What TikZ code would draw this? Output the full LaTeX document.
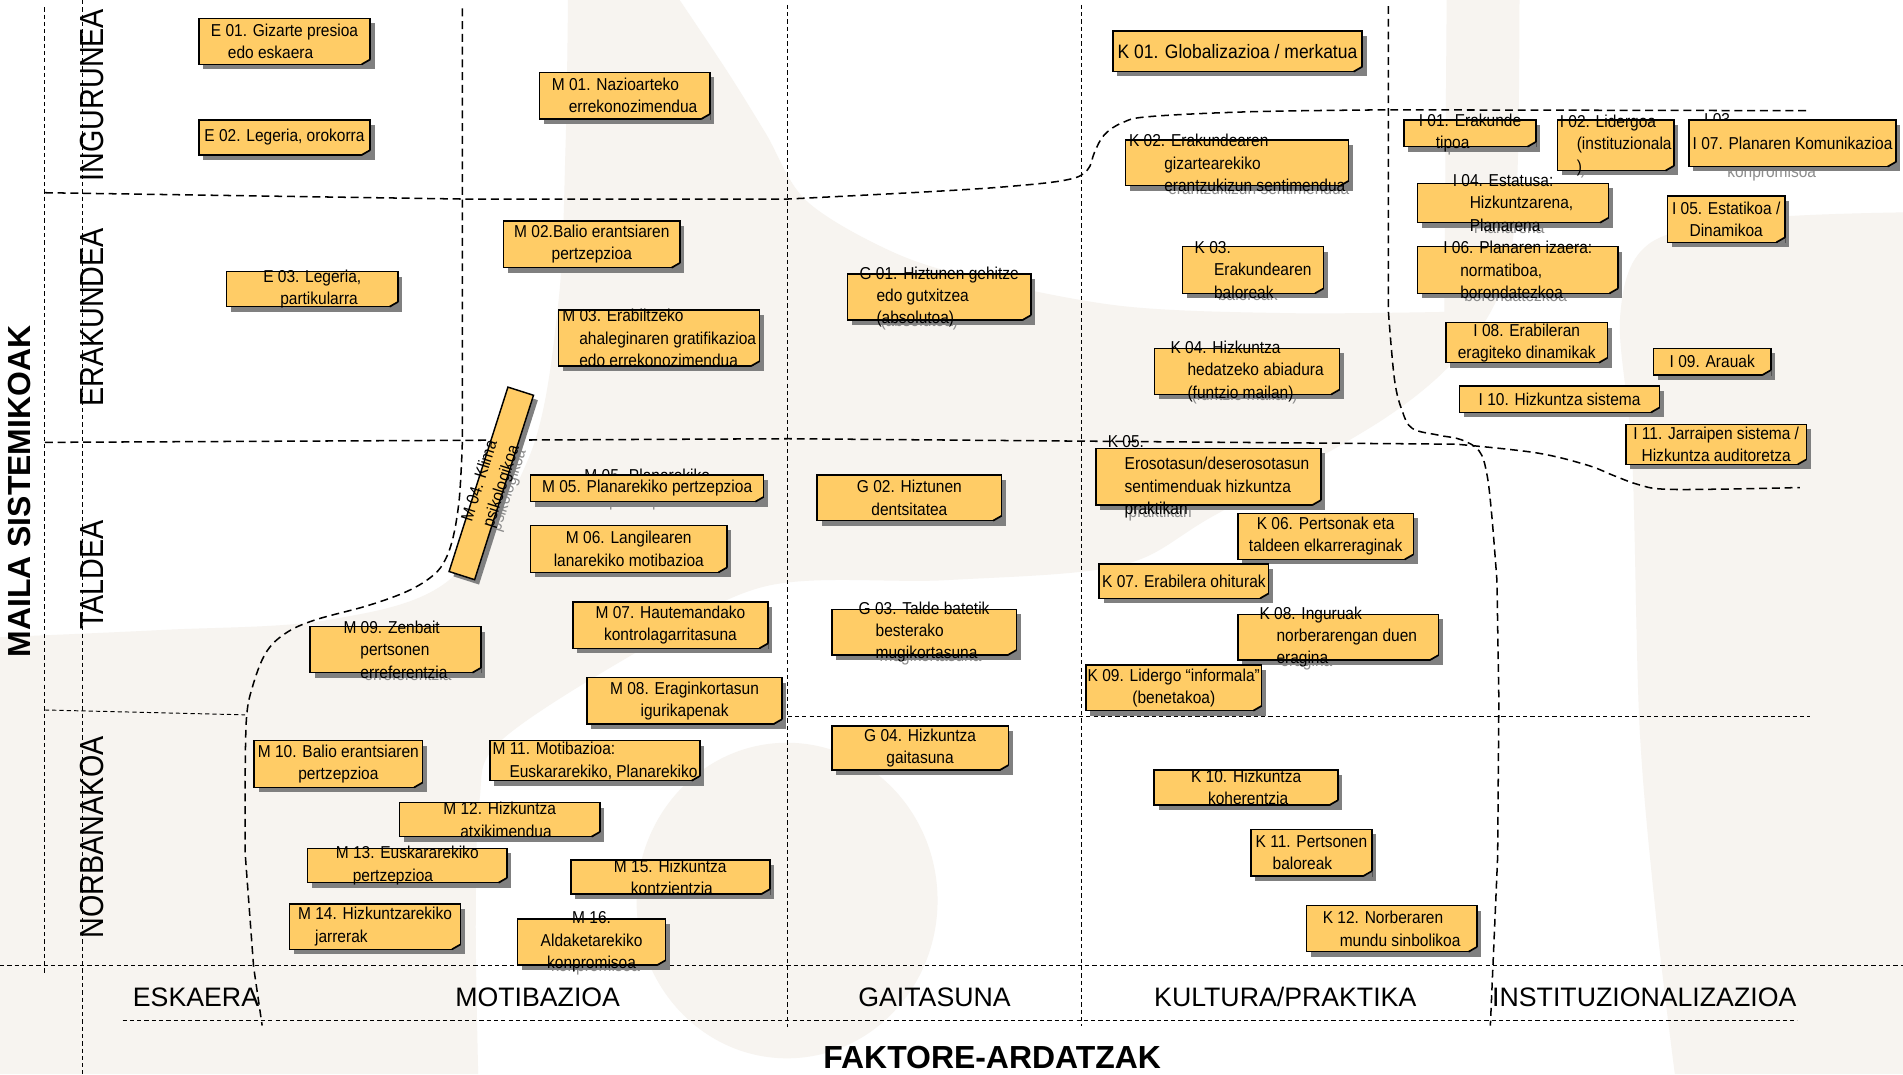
\documentclass[tikz,border=0pt]{standalone}
\usepackage{fontspec}
\setmainfont{Liberation Sans}
\newfontfamily\nar{Liberation Sans}[FakeStretch=0.9]
\newfontfamily\narr{Liberation Sans}[FakeStretch=0.86]
\definecolor{boxc}{HTML}{FFCC66}
\definecolor{bgc}{RGB}{247,244,240}
\newcommand\hi{\hspace*{14pt}}
\newcommand\ph[1]{\phantom{#1}}
\tikzset{
  bxs/.style={draw=black, line width=1.2pt, fill=boxc, inner sep=0pt, outer sep=0pt},
  btxt/.style={inner sep=0pt, text=black, font=\nar\fontsize{14.2}{18.4}\selectfont},
  ghost/.style={btxt, text=black!45},
  shc/.style={fill=black!50},
  tdash/.style={line width=1.25pt, dash pattern=on 6.5pt off 4pt},
  fdash/.style={line width=0.8pt, dash pattern=on 3.5pt off 2.5pt},
  rotlab/.style={rotate=90, inner sep=0pt, font=\narr\fontsize{27.5}{30}\selectfont},
  axlab/.style={anchor=base, inner sep=0pt, font=\fontsize{22}{24}\selectfont},
  bigl/.style={inner sep=0pt, font=\bfseries\fontsize{26.3}{28}\selectfont},
}
% name, x1, y1, x2, y2, node options, text, ghost text (only the part seen outside the box)
\newcommand\bx[8]{%
  \if\relax\detokenize{#8}\relax\else
    \node[ghost,#6] (#1g) at ({(#2+#4)/2+3.3},{(#3+#5)/2+2.2}) {#8};
  \fi
  \fill[shc] ({#2+3.6},{#3+4}) rectangle ({#4+3.6},{#5+4});
  \node[bxs, minimum width={#4-#2}, minimum height={#5-#3}] (#1) at ({(#2+#4)/2},{(#3+#5)/2}) {};
  \fill[shc] ({#4-7},{#5+0.7}) -- ({#4+0.7},{#5+0.7}) -- ({#4+0.7},{#5-4}) -- cycle;
  \draw[line width=1.4pt] ({#4-7},{#5}) -- ({#4},{#5-4});
  \node[btxt,#6] (#1t) at (#1) {#7};
}
\begin{document}
\begin{tikzpicture}[x=1pt,y=-1pt]
\useasboundingbox (0,0) rectangle (1568,885);
\fill[white] (0,0) rectangle (1568,885);
% background shapes
\fill[bgc] plot[smooth, tension=0.55] coordinates {(0,525)(135,519)(269,511)(370,478)(437,374)(460,250)(466,120)(468,0)}
  -- (560,0)
  -- plot[smooth, tension=0.55] coordinates {(560,0)(600,60)(631,110)(664,165)(732,206)(799,228)(923,252)(1060,258)(1190,257)}
  -- (1192,0) -- (1252,0)
  -- plot[smooth, tension=0.55] coordinates {(1252,0)(1250,150)(1240,230)(1205,290)(1139,346)(1000,425)(923,466)(780,478)(631,483)(520,540)(412,611)(395,660)(392,760)(394,885)}
  -- (0,885) -- cycle;
\fill[bgc] (648.5,742) ellipse [x radius=124, y radius=130];
\fill[bgc] plot[smooth, tension=0.55] coordinates {(1568,175)(1450,180)(1360,200)(1335,260)(1345,380)(1351,600)(1365,760)(1380,885)} -- (1568,885) -- cycle;

% grid lines
\draw[fdash] (37,6) -- (37,803);
\draw[fdash] (68,0) -- (68,885);
\draw[fdash] (649,4) -- (649,846);
\draw[fdash] (891,4) -- (891,845);
\draw[fdash] (37,585) -- (202,589);
\draw[fdash] (649,590) -- (1491,590);
\draw[fdash] (0,795.2) -- (1568,795.2);
\draw[fdash] (101,841) -- (1481,841);
\draw[tdash] (37,158.8) -- (381,164) -- (649,164)
  -- plot[smooth, tension=0.6] coordinates {(649,164)(765,158)(833,153.5)(880,148)(896,140)(902,125)(910,111)(925,101)(948,96)(1033,92)(1144,90.5)}
  -- (1489,91.2);
\draw[tdash] (381,7) -- (381,363)
  -- plot[smooth, tension=0.6] coordinates {(381,363)(380,387)(378,415)(373.5,442)(367,461)(357,474)(336,487)(303,499)(259,511)(235,522)(219,538)(208,566)(203,593)(202,650)}
  -- (202,703) -- (209,797) -- (216,845);
\draw[tdash] (37,364.5) -- (650,361.5) -- (1200,366)
  -- plot[smooth, tension=0.6] coordinates {(1200,366)(1265,373)(1307,383)(1330,392)(1349,399)(1370,403)(1420,403)(1483,401.7)};
\draw[tdash] (1144,5) -- (1144,257)
  -- plot[smooth, tension=0.6] coordinates {(1144,257)(1149,312.7)(1155.3,338.4)(1163.7,353)(1185,358.5)(1204,362.3)(1218.7,371.5)(1225,390)(1229,423)(1233.4,478)}
  -- (1235,577) -- (1234,706) -- (1228,845);

% E column
\bx{e01}{163.8}{15.1}{305}{53}{align=left}{E 01. Gizarte presioa\\\hi edo eskaera}{}
\bx{e02}{163.8}{98.9}{305}{127.7}{}{E 02. Legeria, orokorra}{}
\bx{e03}{186.6}{223.9}{328}{252.7}{align=left}{E 03. Legeria,\\\hi partikularra}{}
% M column
\bx{m01}{444.3}{59.6}{584.9}{98}{align=left}{M 01. Nazioarteko\\\hi errekonozimendua}{}
\bx{m02}{415}{182.1}{560.3}{220.6}{align=center}{M 02.Balio erantsiaren\\pertzepzioa}{}
\bx{m03}{460.4}{255.4}{625.9}{301.6}{align=left}{M 03. Erabiltzeko\\\hi ahaleginaren gratifikazioa\\\hi edo errekonozimendua}{\ph{M 03. Erabiltzeko}\\\hi\ph{ahaleginaren gratifikazioa}\\\hi edo errekonozimendua}
\node[ghost, rotate=72.3, align=left] (m04g) at (410.5,401) {\ph{M 04. Klima}\\psikologikoa};
\node[shc, rotate=72.3, minimum width=159.5, minimum height=22.1, inner sep=0pt] (m04s) at (408.4,402.3) {};
\node[bxs, rotate=72.3, minimum width=159.5, minimum height=22.1] (m04) at (404.8,398.3) {};
\node[btxt, rotate=72.3, align=left] (m04t) at (404.8,398.3) {M 04. Klima\\psikologikoa};
\node[ghost, align=left] (m05bg) at (536.6,404.6) {\ph{M 05. Planarekiko}\\\hspace*{17pt}pertzepzioa};
\node[btxt, align=left] (m05b) at (533.3,402.4) {M 05. Planarekiko\\\hspace*{17pt}\ph{pertzepzioa}};
\bx{m05}{437.2}{391.4}{629.3}{413.4}{}{M 05. Planarekiko pertzepzioa}{}
\bx{m06}{437.2}{433.1}{599}{471.6}{align=center}{M 06. Langilearen\\lanarekiko motibazioa}{}
\bx{m07}{472.2}{496}{632.7}{534.2}{align=center}{M 07. Hautemandako\\kontrolagarritasuna}{}
\bx{m08}{483.7}{558.4}{644.4}{596.6}{align=center}{M 08. Eraginkortasun\\igurikapenak}{}
\bx{m09}{255.6}{516.4}{396.2}{554.3}{align=left}{M 09. Zenbait\\\hi pertsonen\\\hi erreferentzia}{\ph{M 09. Zenbait}\\\hi\ph{pertsonen}\\\hi erreferentzia}
\bx{m10}{209.4}{610.3}{348.2}{648.8}{align=center}{M 10. Balio erantsiaren\\pertzepzioa}{}
\bx{m11}{403.7}{610.3}{576.8}{643.3}{align=left}{M 11. Motibazioa:\\\hi Euskararekiko, Planarekiko}{}
\bx{m12}{329}{661.4}{494.4}{689.4}{align=left}{M 12. Hizkuntza\\\hi atxikimendua}{\ph{M 12. Hizkuntza}\\\hi atxikimendua}
\bx{m13}{253.3}{699}{417.8}{727.3}{align=left}{M 13. Euskararekiko\\\hi pertzepzioa}{\ph{M 13. Euskararekiko}\\\hi pertzepzioa}
\bx{m14}{238.7}{744.9}{379.4}{782.2}{align=left}{M 14. Hizkuntzarekiko\\\hi jarrerak}{}
\bx{m15}{470.3}{708.6}{634.3}{736.7}{align=left}{M 15. Hizkuntza\\\hi kontzientzia}{\ph{M 15. Hizkuntza}\\\hi kontzientzia}
\bx{m16}{426.4}{757.2}{548.5}{795.2}{align=center}{M 16.\\Aldaketarekiko\\konpromisoa}{\ph{M 16.}\\\ph{Aldaketarekiko}\\konpromisoa}
% G column
\bx{g01}{698.2}{225.8}{849.5}{263.7}{align=left}{G 01. Hiztunen gehitze\\\hi edo gutxitzea\\\hi (absolutoa)}{\ph{G 01. Hiztunen gehitze}\\\hi\ph{edo gutxitzea}\\\hi (absolutoa)}
\bx{g02}{673.3}{391.4}{825.3}{429}{align=center}{G 02. Hiztunen\\dentsitatea}{}
\bx{g03}{685.4}{502}{837.4}{539.7}{align=left}{G 03. Talde batetik\\\hi besterako\\\hi mugikortasuna}{\ph{G 03. Talde batetik}\\\hi\ph{besterako}\\\hi mugikortasuna}
\bx{g04}{685.4}{598.2}{830.8}{634.5}{align=center}{G 04. Hizkuntza\\gaitasuna}{}
% K column
\bx{k01}{916.9}{25.5}{1122.4}{59}{font=\nar\fontsize{16}{19}\selectfont}{K 01. Globalizazioa / merkatua}{}
\bx{k02}{927.5}{115.4}{1111.3}{153}{align=left}{K 02. Erakundearen\\\hspace*{29pt}gizartearekiko\\\hspace*{29pt}erantzukizun sentimendua}{\ph{K 02. Erakundearen}\\\hspace*{29pt}\ph{gizartearekiko}\\\hspace*{29pt}erantzukizun sentimendua}
\bx{k03}{974.5}{203.3}{1090.5}{241.7}{align=left}{K 03.\\\hspace*{16pt}Erakundearen\\\hspace*{16pt}baloreak}{\ph{K 03.}\\\hspace*{16pt}\ph{Erakundearen}\\\hspace*{16pt}baloreak}
\bx{k04}{951.4}{287}{1103.8}{325}{align=left}{K 04. Hizkuntza\\\hi hedatzeko abiadura\\\hi (funtzio mailan)}{\ph{K 04. Hizkuntza}\\\hi\ph{hedatzeko abiadura}\\\hi (funtzio mailan)}
\bx{k05}{903.1}{369.4}{1088.4}{416.1}{align=left}{K 05.\\\hi Erosotasun/deserosotasun\\\hi sentimenduak hizkuntza\\\hi praktikan}{\ph{K 05.}\\\hi\ph{Erosotasun/deserosotasun}\\\hi\ph{sentimenduak hizkuntza}\\\hi praktikan}
\bx{k06}{1020.1}{423}{1164.5}{460.9}{align=center}{K 06. Pertsonak eta\\taldeen elkarreraginak}{}
\bx{k07}{905.7}{464.7}{1045.3}{493}{}{K 07. Erabilera ohiturak}{}
\bx{k08}{1020.1}{506.2}{1185.3}{543.8}{align=left}{K 08. Inguruak\\\hi norberarengan duen\\\hi eragina}{\ph{K 08. Inguruak}\\\hi\ph{norberarengan duen}\\\hi eragina}
\bx{k09}{894.7}{548}{1039.6}{585.6}{align=center}{K 09. Lidergo “informala”\\(benetakoa)}{}
\bx{k10}{951}{634.5}{1102.5}{663.3}{align=left}{K 10. Hizkuntza\\\hi koherentzia}{}
\bx{k11}{1030.8}{683.4}{1130.3}{721.8}{align=left}{K 11. Pertsonen\\\hi baloreak}{}
\bx{k12}{1076.3}{746.3}{1217}{784.2}{align=left}{K 12. Norberaren\\\hi mundu sinbolikoa}{}
% I column
\bx{i01}{1156.9}{98.9}{1265.5}{120.9}{align=left}{I 01. Erakunde\\\hi tipoa}{\ph{I 01. Erakunde}\\\hi tipoa}
\bx{i02}{1283.2}{98.9}{1379.3}{140.6}{align=left}{I 02. Lidergoa\\\hi (instituzionala\\\hi )}{\ph{I 02. Lidergoa}\\\hi\ph{(instituzionala}\\\hi )}
\node[btxt, anchor=base west] (i03a) at (1404,103) {I 03.};
\node[ghost, anchor=base west] (i03g) at (1423,146.5) {konpromisoa};
\bx{i07}{1391.7}{98.9}{1562.3}{137.3}{}{I 07. Planaren Komunikazioa}{}
\bx{i04}{1168}{151}{1325.3}{183.5}{align=left}{I 04. Estatusa:\\\hi Hizkuntzarena,\\\hi Planarena}{\ph{I 04. Estatusa:}\\\hi\ph{Hizkuntzarena,}\\\hi Planarena}
\bx{i05}{1374}{161.5}{1470.6}{199.7}{align=center}{I 05. Estatikoa /\\Dinamikoa}{}
\bx{i06}{1168}{203.3}{1333.2}{241.7}{align=left}{I 06. Planaren izaera:\\\hi normatiboa,\\\hi borondatezkoa}{\ph{I 06. Planaren izaera:}\\\hi\ph{normatiboa,}\\\hi borondatezkoa}
\bx{i08}{1191.5}{265.9}{1324.4}{298.9}{align=center}{I 08. Erabileran\\eragiteko dinamikak}{}
\bx{i09}{1362.5}{287}{1459.1}{309}{}{I 09. Arauak}{}
\bx{i10}{1202.6}{318}{1367.4}{339.8}{}{I 10. Hizkuntza sistema}{}
\bx{i11}{1339.8}{349.6}{1488.3}{382.6}{align=center}{I 11. Jarraipen sistema /\\Hizkuntza auditoretza}{}

% axis labels
\node[bigl, rotate=90] (maila) at (16,405) {MAILA SISTEMIKOAK};
\node[rotlab] (ingurunea) at (75.7,78.3) {INGURUNEA};
\node[rotlab] (erakundea) at (75.7,261.6) {ERAKUNDEA};
\node[rotlab] (taldea) at (75.7,473.8) {TALDEA};
\node[rotlab] (norbanakoa) at (75.7,690) {NORBANAKOA};
\node[axlab] (eskaera) at (161.5,829) {ESKAERA};
\node[axlab] (motibazioa) at (443,829) {MOTIBAZIOA};
\node[axlab] (gaitasuna) at (770,829) {GAITASUNA};
\node[axlab] (kultura) at (1059,829) {KULTURA/PRAKTIKA};
\node[axlab] (instituz) at (1354.8,829) {INSTITUZIONALIZAZIOA};
\node[bigl, anchor=base] (faktore) at (817.5,880) {FAKTORE-ARDATZAK};
\end{tikzpicture}
\end{document}
